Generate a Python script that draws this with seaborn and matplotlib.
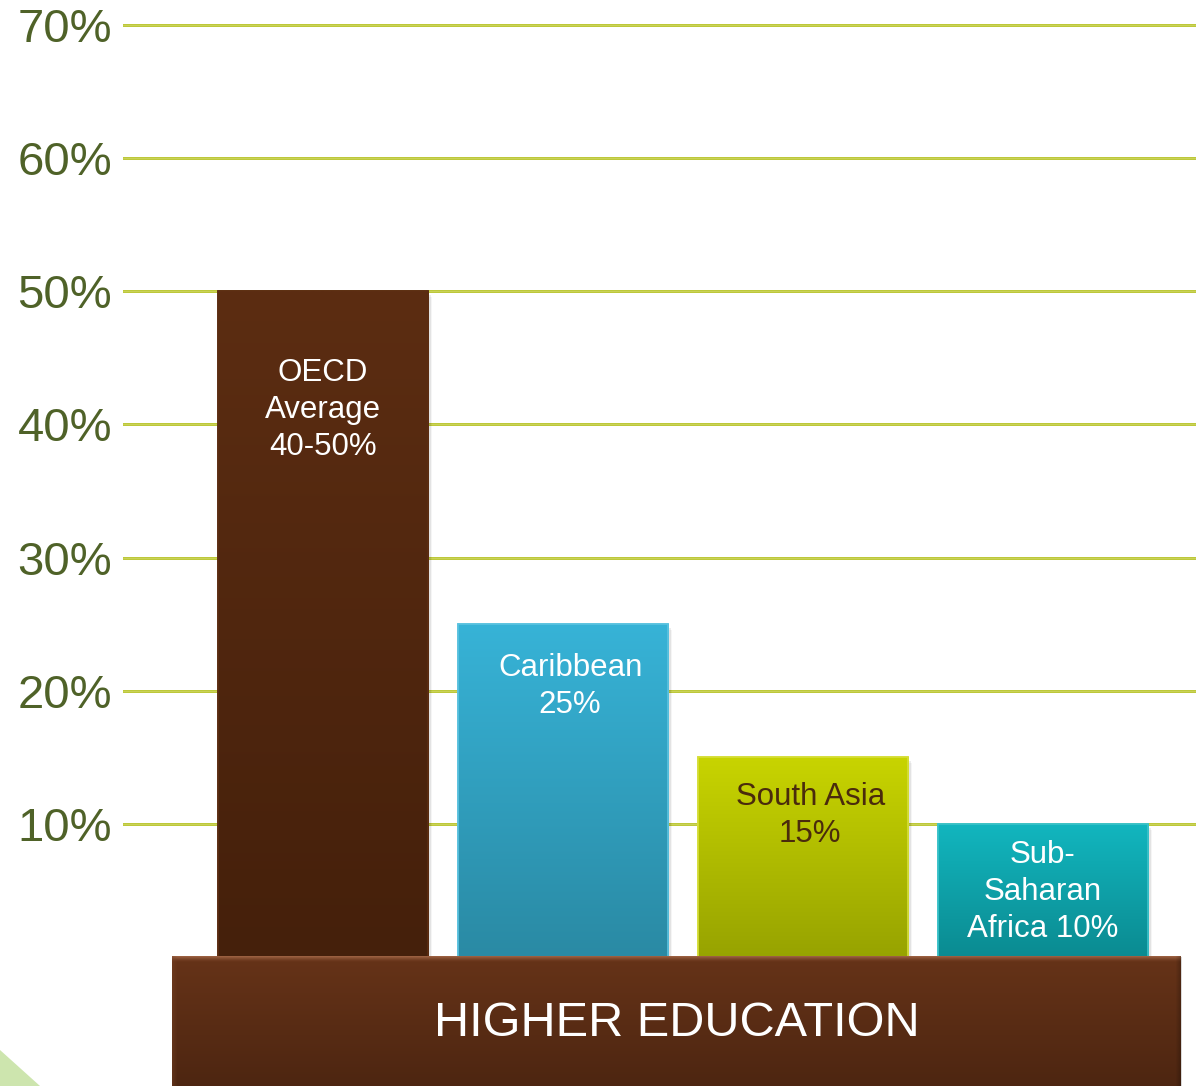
import numpy as np
import pandas as pd
import matplotlib.pyplot as plt
import seaborn as sns
from matplotlib.colors import LinearSegmentedColormap, to_rgb
from matplotlib.patches import Rectangle, Polygon

# data
regions = ["OECD Average", "Caribbean", "South Asia", "Sub-Saharan Africa"]
shares = [50, 25, 15, 10]
bar_texts = ["OECD\nAverage\n40-50%", "Caribbean\n25%", "South Asia\n15%", "Sub-\nSaharan\nAfrica 10%"]
y_ticks = [10, 20, 30, 40, 50, 60, 70]
tick_labels = [f"{t}%" for t in y_ticks]
base_label = "HIGHER EDUCATION"

# styling
top_colors = ["#5C2D12", "#37B3D7", "#C8D400", "#12B6BF"]
bottom_colors = ["#45200B", "#2A8AA4", "#97A300", "#0B8B91"]
edge_colors = ["#5C2D12", "#5CC3E0", "#D6DF3A", "#3DC3CA"]
text_colors = ["white", "white", "#4A2B0C", "white"]
text_y = [41.1, 20.3, 10.6, 4.9]
text_dx = [0.0, 0.03, 0.03, 0.0]
grid_color = "#B5C222"
tick_color = "#4F6228"

plt.rcParams["font.family"] = ["Liberation Sans", "DejaVu Sans"]

W, H = 1196, 1086
fig = plt.figure(figsize=(W / 100, H / 100), dpi=100)
ax = fig.add_axes([123 / W, 0, (W - 123) / W, 1])

df = pd.DataFrame({"region": regions, "share": shares})
sns.barplot(data=df, x="region", y="share", hue="region", palette=top_colors,
            width=0.875, legend=False, ax=ax, zorder=3)

xlim = (-0.833, 3.6375)
ylim = (-9.69, 71.88)

# gridlines
for t in y_ticks:
    ax.axhline(t, color=grid_color, lw=2.0, zorder=1)
    ax.axhline(t, color="#D2DA70", lw=0.5, zorder=1)

# gradient fill + soft shadow on bars
for i, p in enumerate(ax.patches):
    x0, y0 = p.get_x(), p.get_y()
    w, h = p.get_width(), p.get_height()
    for k, a in enumerate([0.10, 0.07, 0.04]):
        ax.add_patch(Rectangle((x0 + 0.006 * (k + 1), y0), w, h - 0.15 * (k + 1),
                               color="black", alpha=a, lw=0, zorder=2))
    cmap = LinearSegmentedColormap.from_list(f"g{i}", [bottom_colors[i], top_colors[i]])
    grad = np.linspace(0, 1, 256).reshape(-1, 1)
    im = ax.imshow(grad, cmap=cmap, origin="lower", aspect="auto",
                   extent=(x0, x0 + w, y0, y0 + h), zorder=3.5)
    im.set_clip_path(p)
    p.set_edgecolor(edge_colors[i])
    p.set_linewidth(1.2)
    ax.add_patch(Rectangle((x0, y0), w, h, fill=False, ec=edge_colors[i], lw=1.2, zorder=3.6))
    ax.text(i + text_dx[i], text_y[i], bar_texts[i], ha="center", va="center",
            color=text_colors[i], fontsize=22.5, linespacing=1.3, zorder=5)

# base box with bevel
bx0, bx1 = -0.629, 3.571
by0, by1 = -11.0, 0.0
nrow, ncol = 300, 1000
top_c = np.array(to_rgb("#663318"))
bot_c = np.array(to_rgb("#4A2410"))
tt = np.linspace(0, 1, nrow).reshape(-1, 1, 1)
img = top_c * (1 - tt) + bot_c * tt
img = np.repeat(img, ncol, axis=1)
hl = np.array(to_rgb("#A86C4C"))
band = 12
for r in range(band):
    f = (1 - r / band) ** 1.5 * 0.85
    img[r, :, :] = img[r, :, :] * (1 - f) + hl * f
for c in range(5):
    f = (1 - c / 5) * 0.35
    img[:, c, :] = img[:, c, :] * (1 - f) + np.array(to_rgb("#7A4528")) * f
    img[:, -1 - c, :] = img[:, -1 - c, :] * (1 - f * 0.6)
ax.add_patch(Rectangle((bx0 + 0.01, by0), bx1 - bx0, by1 - by0, color="black",
                       alpha=0.15, lw=0, zorder=5.5))
ax.imshow(img, origin="upper", aspect="auto", extent=(bx0, bx1, by0, by1), zorder=6)
ax.text((bx0 + bx1) / 2 + 0.005, -5.0, base_label, ha="center", va="center",
        color="white", fontsize=35, zorder=7)

ax.set_xlim(*xlim)
ax.set_ylim(*ylim)
ax.set_yticks(y_ticks)
ax.set_yticklabels(tick_labels)
ax.tick_params(axis="y", length=0, pad=8, labelsize=34, labelcolor=tick_color)
ax.tick_params(axis="x", length=0, labelbottom=False)
ax.set_xlabel("")
ax.set_ylabel("")
for s in ax.spines.values():
    s.set_visible(False)
ax.set_facecolor("white")

# decorative corner triangle
fig.patches.append(Polygon([[0, 0], [0, 36 / H], [40 / W, 0]], closed=True,
                           transform=fig.transFigure, color="#CDE5AE", lw=0, zorder=0))

fig.savefig("out.png", dpi=100, facecolor="white")
